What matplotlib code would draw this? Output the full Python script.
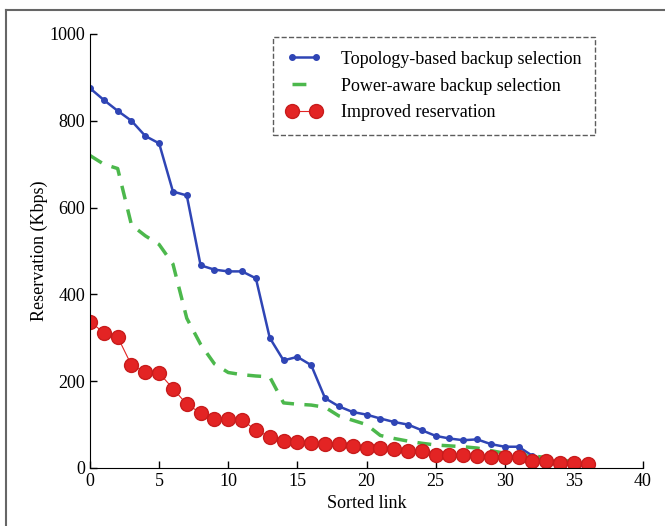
import numpy as np
import matplotlib
matplotlib.use("Agg")
import matplotlib.pyplot as plt
from matplotlib.lines import Line2D

# values (one per sorted link, 0..36)
links = list(range(37))
topology = [875, 848, 823, 800, 765, 748, 637, 628, 467, 457, 453, 453, 437, 300,
            248, 256, 237, 161, 142, 129, 123, 114, 106, 100, 87, 74, 68, 64, 66,
            55, 49, 49, 28, 20, 12, 6, 5]
power_aware = [720, 700, 690, 560, 535, 515, 470, 345, 285, 240, 220, 215, 212, 210,
               150, 147, 145, 140, 120, 110, 100, 75, 68, 62, 57, 53, 51, 49, 46,
               40, 34, 31, 28, 24, 19, 14, 10]
improved = [337, 312, 302, 237, 221, 219, 183, 147, 127, 112, 112, 111, 87, 72, 63,
            59, 57, 56, 56, 51, 45, 45, 44, 40, 40, 30, 30, 30, 28, 25, 25, 25, 17,
            15, 12, 12, 9]
labels = ["Topology-based backup selection", "Power-aware backup selection",
          "Improved reservation"]

plt.rcParams['font.family'] = ['Liberation Serif', 'DejaVu Serif']
plt.rcParams['font.size'] = 13

fig = plt.figure(figsize=(6.65, 5.26), dpi=100)
ax = fig.add_axes([90/665, 1-468/526, 553/665, 434/526])

ax.plot(links, topology, color='#2f45b5', lw=1.8, marker='o', ms=4, label=labels[0])
ax.plot(links, power_aware, color='#4cb84c', lw=2.5, ls=(0, (4, 3)), label=labels[1])
ax.plot(links, improved, color='#e32424', lw=0.8, marker='o', ms=10,
        markeredgecolor='#c81c1c', label=labels[2])

ax.set_xlim(0, 40)
ax.set_ylim(0, 1000)
ax.set_xticks(range(0, 41, 5))
ax.set_yticks(range(0, 1001, 200))
ax.spines['top'].set_visible(False)
ax.spines['right'].set_visible(False)
ax.tick_params(direction='in', length=5, width=1)
ax.set_xlabel("Sorted link", labelpad=4)
ax.set_ylabel("Reservation (Kbps)", labelpad=1)

leg = ax.legend(loc='upper right', bbox_to_anchor=(0.913, 0.993), borderaxespad=0,
                fancybox=False, handlelength=1.9, handletextpad=1.1, numpoints=2,
                labelspacing=0.55, borderpad=0.75)
leg.get_frame().set_linestyle('--')
leg.get_frame().set_edgecolor('#333333')
leg.get_frame().set_linewidth(1)

# partial outer frame of the original figure
fig.add_artist(Line2D([6/665, 1], [1-10/526, 1-10/526], color='#666666', lw=1.5))
fig.add_artist(Line2D([6/665, 6/665], [0, 1-10/526], color='#666666', lw=1.5))

fig.savefig("out.png", dpi=100)
